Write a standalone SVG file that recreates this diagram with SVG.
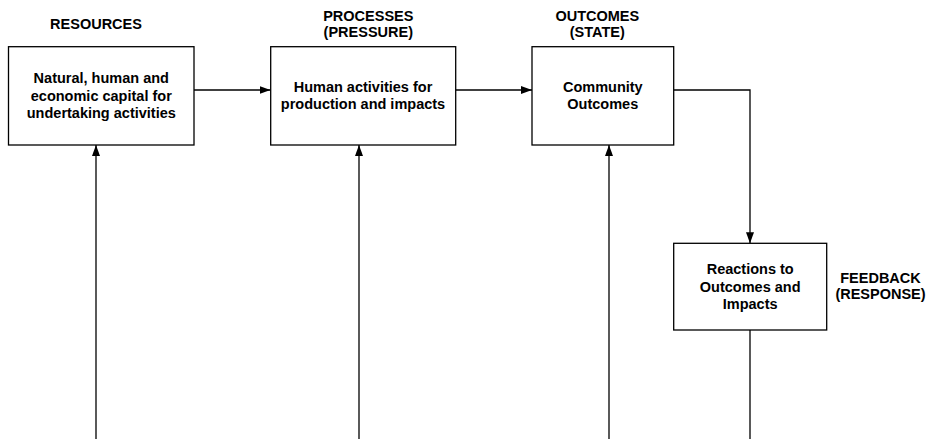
<svg xmlns="http://www.w3.org/2000/svg" width="928" height="439" viewBox="0 0 928 439">
<defs>
<style>
text{font-family:"Liberation Sans",Arial,sans-serif;font-weight:bold;font-size:14.5px;fill:#000;text-anchor:middle}
.box{fill:#fff;stroke:#000;stroke-width:1.3}
.ln{fill:none;stroke:#000;stroke-width:1.3}
</style>
<marker id="ah" viewBox="0 0 11 8" refX="11" refY="4" markerWidth="11" markerHeight="8" markerUnits="userSpaceOnUse" orient="auto">
<path d="M0,0 L11,4 L0,8 Z" fill="#000"/>
</marker>
</defs>
<rect width="928" height="439" fill="#fff"/>
<g id="connectors">
<path class="ln" d="M194,90 H270.5" marker-end="url(#ah)"/>
<path class="ln" d="M455.7,90 H532" marker-end="url(#ah)"/>
<path class="ln" d="M673.7,90 H750 V243.3" marker-end="url(#ah)"/>
<path class="ln" d="M96,439 V145" marker-end="url(#ah)"/>
<path class="ln" d="M359,439 V145" marker-end="url(#ah)"/>
<path class="ln" d="M609,439 V145" marker-end="url(#ah)"/>
<path class="ln" d="M750,330 V439"/>
</g>
<g id="resources">
<text x="96" y="29.3">RESOURCES</text>
<rect class="box" x="8.5" y="46.7" width="185.5" height="98.3"/>
<text x="101.3" y="83.3">Natural, human and</text>
<text x="101.3" y="100.7">economic capital for</text>
<text x="101.3" y="118">undertaking activities</text>
</g>
<g id="processes">
<text x="368.3" y="20.5">PROCESSES</text>
<text x="368.3" y="37.3">(PRESSURE)</text>
<rect class="box" x="270.7" y="46.7" width="185" height="98.3"/>
<text x="363" y="92.3">Human activities for</text>
<text x="363" y="109">production and impacts</text>
</g>
<g id="outcomes">
<text x="597.3" y="20.5">OUTCOMES</text>
<text x="597.3" y="37.3">(STATE)</text>
<rect class="box" x="532" y="46.7" width="141.7" height="98.3"/>
<text x="602.8" y="92.3">Community</text>
<text x="602.8" y="109">Outcomes</text>
</g>
<g id="feedback">
<rect class="box" x="673.7" y="243.3" width="153" height="86.7"/>
<text x="750.2" y="274">Reactions to</text>
<text x="750.2" y="291.5">Outcomes and</text>
<text x="750.2" y="308.5">Impacts</text>
<text x="880.5" y="282.5">FEEDBACK</text>
<text x="880.5" y="299.3">(RESPONSE)</text>
</g>
</svg>
